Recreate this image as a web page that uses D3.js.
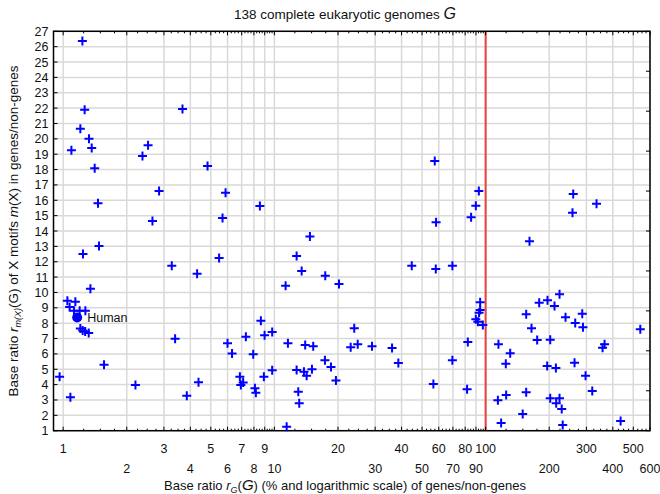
<!DOCTYPE html>
<html>
<head>
<meta charset="utf-8">
<script src="https://cdn.jsdelivr.net/npm/d3@7/dist/d3.min.js"></script>
<style>
body { margin: 0; background: #fff; }
text { font-family: "Liberation Sans", Arial, sans-serif; fill: #111; }
</style>
</head>
<body>
<div id="chart"></div>
<script>
var w = 660,
    h = 494;

// base ratio of genes/non-genes (%), one per genome
var ratioG = [
  1.233, 1.264, 1.206, 1.325, 1.094, 1.365, 1.410, 1.462, 1.478, 1.241, 1.346, 1.047,
  1.142, 1.073, 1.125, 1.197, 1.274, 1.206, 1.237, 1.271, 1.321, 1.561, 0.962, 1.082,
  2.199, 3.672, 2.374, 2.523, 2.845, 2.647, 4.825, 5.871, 5.682, 3.267, 4.306, 5.474,
  3.388, 6.00, 6.302, 4.373, 3.848, 6.863, 6.936, 7.113, 7.328, 7.937, 8.087, 8.171,
  8.537, 8.63, 8.986, 9.76, 8.915, 9.76,
  14.73, 12.74, 13.46, 17.41, 20.22, 11.30, 11.59, 13.99, 15.27, 23.88, 22.97, 24.80,
  28.98, 36.06, 38.62, 44.69, 58.08, 57.44, 58.27, 56.57, 12.74, 13.80, 14.21, 15.06,
  12.97, 13.11, 17.35, 18.53, 19.56, 11.43,
  69.6, 69.6, 82.35, 81.7, 85.35, 89.86, 92.86, 94.19, 94.19, 93.1, 89.86, 91.9, 97.0,
  161.3, 259.8, 335.0, 257.8, 223.8, 179.3, 196.3, 211.9, 155.6, 286.7, 238.9, 265.6,
  288.9, 164.9, 539.8, 175.4, 202.2, 115.0, 365.6, 357.7, 130.7, 124.6, 195.6, 215.1,
  263.6, 297.2, 319.7, 125.1, 155.6, 114.3, 202.2, 223.8, 215.8, 229.2, 149.8, 118.4,
  231.7, 435.5
];

// base ratio of X motifs in genes/non-genes, same order
var ratioMotif = [
  26.37, 21.90, 20.66, 20.01, 19.25, 19.40, 18.08, 15.80, 13.02, 12.50, 10.24, 9.46,
  9.40, 9.06, 8.81, 8.81, 8.81, 7.65, 7.52, 7.46, 7.36, 5.30, 4.52, 3.17,
  3.98, 21.94, 18.88, 19.58, 16.61, 14.65, 18.23, 16.49, 14.85, 11.74, 11.22, 12.24,
  6.99, 6.69, 6.03, 4.15, 3.28, 4.52, 3.98, 4.13, 7.12, 5.97, 3.76, 3.47,
  15.63, 8.16, 7.21, 7.43, 4.52, 4.93,
  13.64, 12.37, 11.40, 11.09, 10.55, 10.44, 6.69, 6.58, 6.49, 7.67, 6.43, 6.63,
  6.49, 6.38, 5.41, 11.74, 11.53, 18.56, 14.57, 4.04, 4.95, 4.84, 4.58, 5.00,
  3.54, 2.78, 5.58, 5.15, 4.26, 1.26,
  11.74, 5.58, 6.77, 3.70, 14.89, 15.65, 16.61, 9.36, 8.86, 8.68, 8.25, 8.10, 7.88,
  13.33, 16.41, 15.78, 15.19, 9.88, 9.33, 9.49, 9.12, 8.58, 8.62, 8.38, 8.01,
  7.73, 7.67, 7.60, 6.90, 6.92, 6.63, 6.63, 6.40, 6.04, 5.36, 5.21, 5.08,
  5.43, 4.58, 3.58, 3.32, 3.50, 2.98, 3.11, 3.11, 2.78, 2.41, 2.09, 1.50,
  1.37, 1.63
];

var humanG = 1.165,
    humanMotif = 8.37;

var xRow1 = [1, 3, 5, 7, 9, 20, 40, 60, 80, 100, 300, 500];
var xRow2 = [2, 4, 6, 8, 10, 30, 50, 70, 90, 200, 400, 600];
var yTicks = d3.range(1, 28);

var plotL = 53.5, plotR = 650, plotT = 31.3, plotB = 430.7;

var x = d3.scaleLog().domain([0.9, 600]).range([plotL, plotR]);
var y = d3.scaleLinear().domain([1, 27]).range([plotB, plotT]);

var svg = d3.select('#chart').append('svg').attr('width', w).attr('height', h);

var xGrid = xRow1.concat(xRow2);
var minor = [];
[1, 10, 100].forEach(function (b) {
  for (var m = 1; m < 10; m++) {
    [0.25, 0.5, 0.75].forEach(function (s) {
      var v = b * (m + s);
      if (v > 0.9 && v < 600) minor.push(v);
    });
  }
});

// grid
svg.append('g').selectAll('line')
  .data(xGrid)
  .enter().append('line')
  .attr('x1', function (d) { return x(d); })
  .attr('x2', function (d) { return x(d); })
  .attr('y1', plotT).attr('y2', plotB)
  .attr('stroke', '#d9d9d9').attr('stroke-width', 1.5);

svg.append('g').selectAll('line')
  .data(yTicks)
  .enter().append('line')
  .attr('x1', plotL).attr('x2', plotR)
  .attr('y1', function (d) { return y(d); })
  .attr('y2', function (d) { return y(d); })
  .attr('stroke', '#d9d9d9').attr('stroke-width', 1.5);

// red line at 100%
svg.append('line')
  .attr('x1', x(100)).attr('x2', x(100))
  .attr('y1', plotT).attr('y2', plotB)
  .attr('stroke', '#e8413c').attr('stroke-width', 2);

// frame
svg.append('rect')
  .attr('x', plotL).attr('y', plotT)
  .attr('width', plotR - plotL).attr('height', plotB - plotT)
  .attr('fill', 'none').attr('stroke', '#000').attr('stroke-width', 1.5);

// inward ticks
var tk = svg.append('g').attr('stroke', '#000').attr('stroke-width', 1);
xGrid.forEach(function (d) {
  tk.append('line').attr('x1', x(d)).attr('x2', x(d)).attr('y1', plotB).attr('y2', plotB - 4);
  tk.append('line').attr('x1', x(d)).attr('x2', x(d)).attr('y1', plotT).attr('y2', plotT + 4);
});
minor.forEach(function (d) {
  tk.append('line').attr('x1', x(d)).attr('x2', x(d)).attr('y1', plotB).attr('y2', plotB - 2);
  tk.append('line').attr('x1', x(d)).attr('x2', x(d)).attr('y1', plotT).attr('y2', plotT + 2);
});
yTicks.forEach(function (d) {
  tk.append('line').attr('x1', plotL).attr('x2', plotL + 4).attr('y1', y(d)).attr('y2', y(d));
});
d3.range(0, 11).forEach(function (i) {
  var yy = plotB - i * (plotB - plotT) / 10;
  tk.append('line').attr('x1', plotR).attr('x2', plotR - 4).attr('y1', yy).attr('y2', yy);
});

// tick labels
svg.append('g').selectAll('text')
  .data(yTicks)
  .enter().append('text')
  .attr('x', plotL - 5)
  .attr('y', function (d) { return y(d) + 4.5; })
  .attr('text-anchor', 'end')
  .attr('font-size', 12.5)
  .text(function (d) { return d; });

svg.append('g').selectAll('text')
  .data(xRow1)
  .enter().append('text')
  .attr('x', function (d) { return x(d); })
  .attr('y', 453)
  .attr('text-anchor', 'middle')
  .attr('font-size', 12.5)
  .text(function (d) { return d; });

svg.append('g').selectAll('text')
  .data(xRow2)
  .enter().append('text')
  .attr('x', function (d) { return x(d); })
  .attr('y', 473)
  .attr('text-anchor', 'middle')
  .attr('font-size', 12.5)
  .text(function (d) { return d; });

// points
svg.append('g').selectAll('path')
  .data(ratioG)
  .enter().append('path')
  .attr('transform', function (d, i) {
    return 'translate(' + x(d) + ',' + y(ratioMotif[i]) + ')';
  })
  .attr('d', 'M-4.5,0H4.5M0,-4.5V4.5')
  .attr('stroke', '#0000ff').attr('stroke-width', 2).attr('fill', 'none');

svg.append('circle')
  .attr('cx', x(humanG)).attr('cy', y(humanMotif))
  .attr('r', 5).attr('fill', '#0000ff');

svg.append('text')
  .attr('x', x(humanG) + 10).attr('y', y(humanMotif) + 5)
  .attr('font-size', 12.5)
  .text('Human');

// title
var title = svg.append('text')
  .attr('x', 345).attr('y', 19)
  .attr('text-anchor', 'middle')
  .attr('font-size', 13.5);
title.append('tspan').text('138 complete eukaryotic genomes ');
title.append('tspan').attr('font-style', 'italic').attr('font-size', 16).text('G');

// x label
var xl = svg.append('text')
  .attr('x', 345).attr('y', 490)
  .attr('text-anchor', 'middle')
  .attr('font-size', 13);
xl.append('tspan').text('Base ratio ');
xl.append('tspan').attr('font-style', 'italic').text('r');
xl.append('tspan').attr('font-style', 'italic').attr('font-size', 9).attr('dy', 3).text('G');
xl.append('tspan').attr('dy', -3).text('(');
xl.append('tspan').attr('font-style', 'italic').attr('font-size', 15).text('G');
xl.append('tspan').text(') (% and logarithmic scale) of genes/non-genes');

// y label
var yl = svg.append('text')
  .attr('transform', 'translate(18,' + ((plotT + plotB) / 2) + ') rotate(-90)')
  .attr('text-anchor', 'middle')
  .attr('font-size', 13.5);
yl.append('tspan').text('Base ratio ');
yl.append('tspan').attr('font-style', 'italic').text('r');
yl.append('tspan').attr('font-style', 'italic').attr('font-size', 9).attr('dy', 3).text('m(X)');
yl.append('tspan').attr('dy', -3).text('(G) of X motifs ');
yl.append('tspan').attr('font-style', 'italic').text('m');
yl.append('tspan').text('(X) in genes/non-genes');
</script>
</body>
</html>
